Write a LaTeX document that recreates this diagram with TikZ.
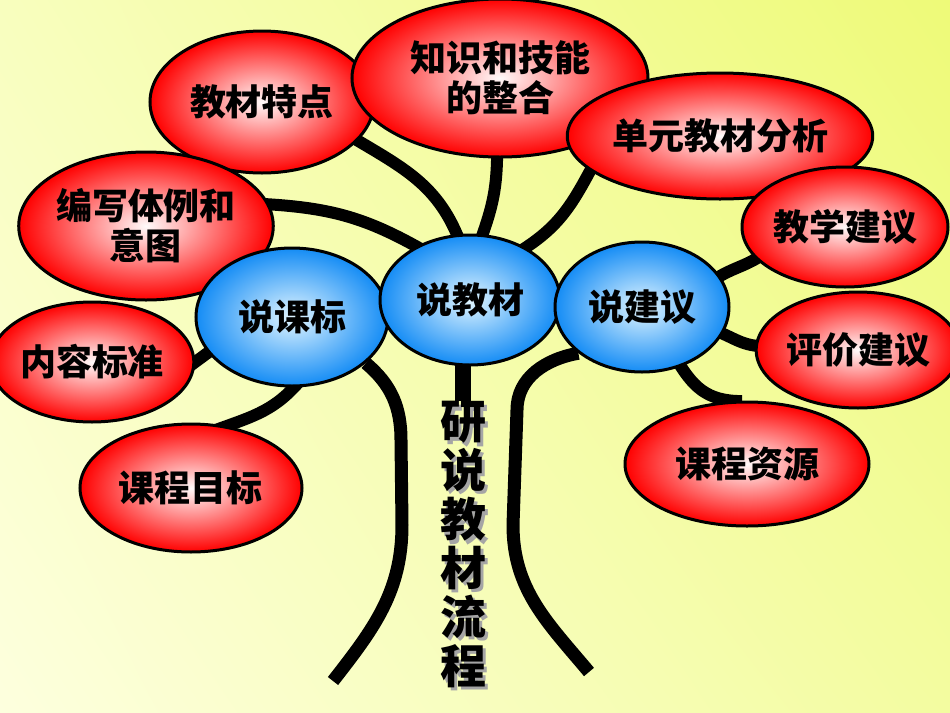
\documentclass[tikz,border=0pt]{standalone}
\usepackage{fontspec}
\newfontfamily\cjk{Noto Sans CJK SC}
\usetikzlibrary{shapes.geometric,shadings}
\pgfdeclarelayer{bglayer}
\pgfdeclarelayer{linklayer}
\pgfsetlayers{bglayer,linklayer,main}
\definecolor{bgUL}{RGB}{248,254,190}
\definecolor{bgUR}{RGB}{238,250,120}
\definecolor{bgLL}{RGB}{253,255,222}
\definecolor{bgLR}{RGB}{243,252,160}
\definecolor{redin}{RGB}{255,250,250}
\definecolor{redout}{RGB}{255,0,0}
\definecolor{bluein}{RGB}{225,245,255}
\definecolor{blueout}{RGB}{20,140,245}
\definecolor{shadowgray}{RGB}{165,165,165}
\tikzset{
  oval/.style={ellipse,draw=black,line width=1.5pt,inner sep=0pt,align=center,
    font=\cjk\bfseries\fontsize{18pt}{20pt}\selectfont},
  sz/.style 2 args={minimum width=#1pt,minimum height=#2pt},
  redov/.style={oval,inner color=redin,outer color=redout},
  blueov/.style={oval,inner color=bluein,outer color=blueout},
  branch/.style={line width=6pt,shorten <=-6pt,shorten >=-6pt},
  trunk/.style={line width=6.5pt},
  stemline/.style={line width=8pt,shorten >=-4pt},
  ttlfont/.style={inner sep=0pt,align=center,
    font=\cjk\bfseries\fontsize{23pt}{24.5pt}\selectfont}
}
\begin{document}
\begin{tikzpicture}[x=0.5pt,y=0.5pt]
\useasboundingbox (0,0) rectangle (950,-713);
\begin{pgfonlayer}{bglayer}
  \shade[upper left=bgUL,upper right=bgUR,lower left=bgLL,lower right=bgLR]
    (0,0) rectangle (950,-713);
\end{pgfonlayer}

% red outer ovals
\node[redov,sz={112}{71}] (ttd) at (262,-102) {教材特点};
\node[redov,sz={148}{79}] (zsjn) at (500,-78) {知识和技能\\的整合};
\node[redov,sz={128}{63}] (dyfx) at (720,-136) {单元教材分析};
\node[redov,sz={103}{60}] (jxjy) at (845,-227) {教学建议};
\node[redov,sz={123}{74}] (bxtl) at (146,-226) {编写体例和\\意图};
\node[redov,sz={92}{60}] (nrbz) at (92,-362) {内容标准};
\node[redov,sz={111}{64}] (kcmb) at (191,-488) {课程目标};
\node[redov,sz={100}{58}] (pjjy) at (858,-350) {评价建议};
\node[redov,sz={122}{62}] (kczy) at (747,-464) {课程资源};

% blue inner ovals
\node[blueov,sz={96}{69}] (skb) at (292,-317) {说课标};
\node[blueov,sz={90}{65}] (sjc) at (470,-300) {说教材};
\node[blueov,sz={87}{65}] (sjy) at (642,-307) {说建议};

% vertical title with shadow
\node[ttlfont,text=shadowgray] (ttlsh) at (466,-548) {研\\说\\教\\材\\流\\程};
\node[ttlfont] (ttl) at (463,-545) {研\\说\\教\\材\\流\\程};

% free ends and bends of the trunk lines
\coordinate (lt1) at (401,-440);
\coordinate (lt2) at (402,-525);
\coordinate (ltend) at (333,-681);
\coordinate (rt1) at (517,-410);
\coordinate (rt2) at (513,-525);
\coordinate (rtend) at (589,-672);

\begin{pgfonlayer}{linklayer}
  \draw[branch] (sjc.101) to[out=110,in=-31] (ttd.-22);
  \draw[branch] (sjc.79) to[out=70,in=-90] (zsjn.-92);
  \draw[branch] (sjc.43) to[out=31,in=-118] (dyfx.195);
  \draw[branch] (bxtl.10) to[out=-3,in=150] (sjc.135);
  \draw[branch] (skb.203) -- (nrbz.0);
  \draw[branch] (skb.-88) to[out=-130,in=20] (kcmb.60);
  \draw[branch] (sjy.22) to[out=35,in=-145] (jxjy.200);
  \draw[branch] (sjy.-18) to[out=-20,in=180] (pjjy.178);
  \draw[branch] (sjy.-57) to[out=-60,in=180] (kczy.105);
  \draw[trunk] (skb.-32) to[out=-40,in=90] (lt1) -- (lt2) to[out=-90,in=52] (ltend);
  \draw[trunk] (sjy.216) to[out=190,in=90] (rt1) -- (rt2) to[out=-90,in=130] (rtend);
  \draw[stemline] (ttl.north) -- (ttl.north |- sjc.center);
\end{pgfonlayer}
\end{tikzpicture}
\end{document}
